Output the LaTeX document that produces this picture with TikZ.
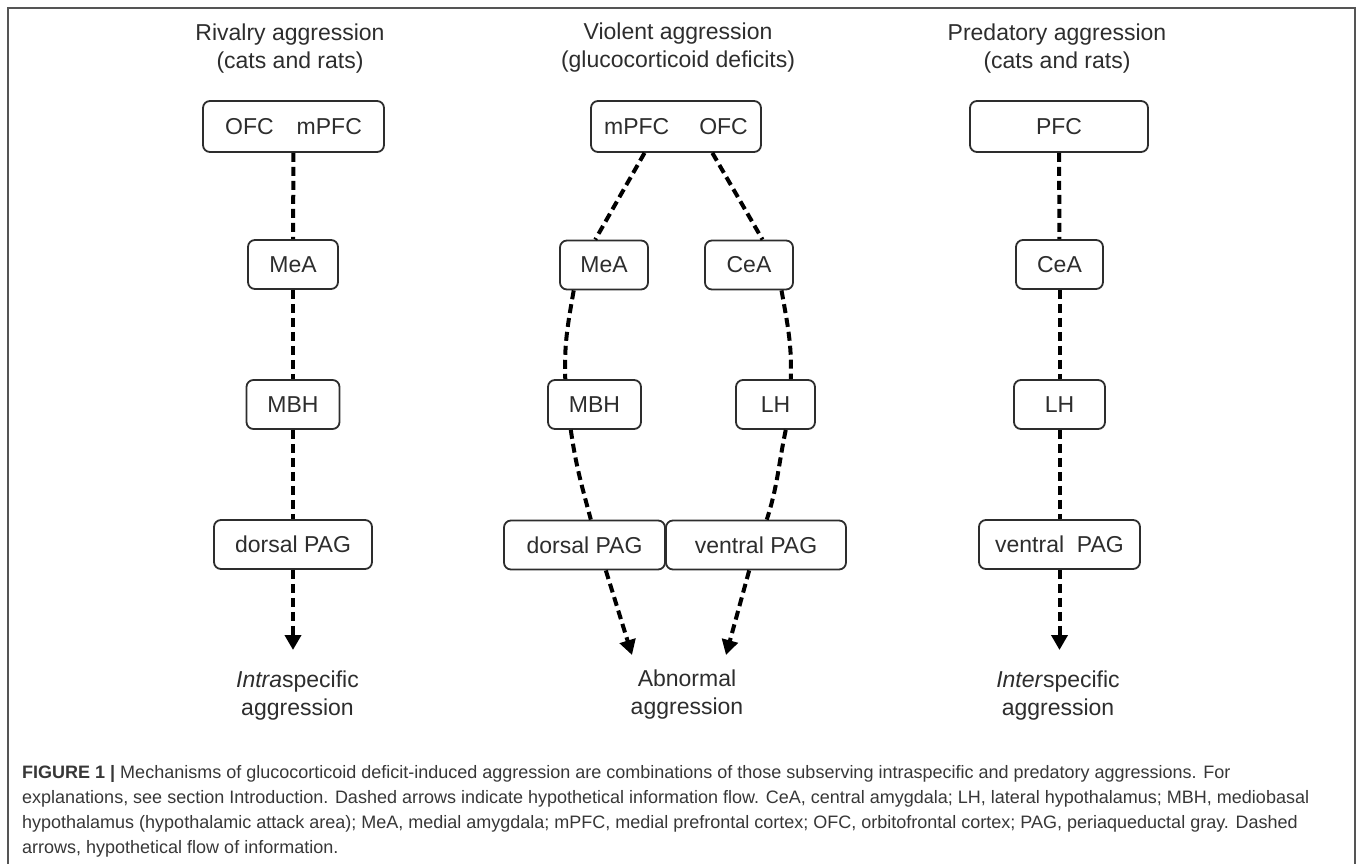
\documentclass[tikz,border=0pt]{standalone}
\usepackage{fontspec}
\setmainfont{Liberation Sans}
\usetikzlibrary{arrows.meta}
\definecolor{textgray}{RGB}{45,45,45}
\definecolor{framegray}{RGB}{85,85,85}
\definecolor{captiongray}{RGB}{55,55,55}

\begin{document}
\begin{tikzpicture}
[x=1pt,y=1pt,
 boxdecorate/.style={shape=rectangle,rounded corners=7pt,draw=textgray,line width=1.8pt,%
   inner sep=0pt,text=textgray,font=\fontsize{23}{27}\selectfont},%
 linedecorate/.style={-,dash pattern=on 9pt off 5pt,line width=4pt,black},%
 arrowdecorate/.style={linedecorate,-{Triangle[width=16pt,length=15pt]}},%
 labeldecorate/.style={align=center,text=textgray,font=\fontsize{23}{28}\selectfont}]
\useasboundingbox (0,0) rectangle (1358,-864);
\draw[framegray,line width=1.4pt] (8,-870) -- (8,-8) -- (1355,-8) -- (1355,-870);
%% titles
\node (title1) at (290,-49) [labeldecorate] {Rivalry aggression\\(cats and rats)};
\node (title2) at (678,-48) [labeldecorate] {Violent aggression\\(glucocorticoid deficits)};
\node (title3) at (1057,-49) [labeldecorate] {Predatory aggression\\(cats and rats)};
%% brain areas
\foreach \nodename/\x/\y/\w/\h/\txt in {top1/293.5/126.5/181/51/{OFC\quad mPFC},
  mea1/293/264.5/90/49/MeA, mbh1/293/404.5/93/49/MBH, dpag1/293/544.5/158/49/{dorsal PAG},
  top2/676/126.5/170/51/{mPFC\hspace{30pt}OFC},
  mea2/604/265/88/49/MeA, cea2/749/265/88/49/CeA, mbh2/594.5/404.5/93/49/MBH,
  lh2/775.5/404.5/79/49/LH, dpag2/584.5/545/161/49/{dorsal PAG}, vpag2/756/545/180/49/{ventral PAG},
  top3/1059/126.5/178/51/PFC,
  cea3/1059.5/264.5/87/49/CeA, lh3/1059.5/404.5/91/49/LH, vpag3/1059.5/544.5/161/49/{ventral\ \ PAG}}
{
  \node (\nodename) at (\x,-\y) [boxdecorate,minimum width=\w pt,minimum height=\h pt] {\txt};
}
%% outcomes
\node (intra) at (297.5,-696) [labeldecorate] {\textit{Intra}specific\\aggression};
\node (abnormal) at (687,-695) [labeldecorate] {Abnormal\\aggression};
\node (inter) at (1058,-696) [labeldecorate] {\textit{Inter}specific\\aggression};
\coordinate (tip1) at (293,-650);
\coordinate (tip2a) at (632,-655);
\coordinate (tip2b) at (726,-655);
\coordinate (tip3) at (1059.5,-650);
%% dashed links
\path
\foreach \startnode/\endnode in {top1/mea1, mea1/mbh1, mbh1/dpag1,
  top3/cea3, cea3/lh3, lh3/vpag3}
{
  (\startnode) edge[linedecorate] (\endnode)
};
\path (top2.-140) edge[linedecorate] (mea2.109)
  (top2.-36) edge[linedecorate] (cea2.62)
  (mea2.-140) edge[linedecorate,out=-100,in=92] (mbh2.139)
  (cea2.-38) edge[linedecorate,out=-80,in=88] (lh2.59)
  (mbh2.-133) edge[linedecorate,out=-82,in=105] (dpag2.76)
  (lh2.-68) edge[linedecorate,out=-102,in=72] (vpag2.67);
%% arrows
\draw[arrowdecorate] (dpag1) -- (tip1);
\draw[arrowdecorate] (dpag2.-50) -- (tip2a);
\draw[arrowdecorate] (vpag2.-105) -- (tip2b);
\draw[arrowdecorate] (vpag3) -- (tip3);
%% caption
\node (caption) at (22,-853) [anchor=base west,align=left,inner sep=0pt,text=captiongray,%
  font=\fontsize{18}{25}\selectfont]
{\textbf{FIGURE 1 |} Mechanisms of glucocorticoid deficit-induced aggression are combinations of those subserving intraspecific and predatory aggressions. For\\
explanations, see section Introduction. Dashed arrows indicate hypothetical information flow. CeA, central amygdala; LH, lateral hypothalamus; MBH, mediobasal\\
hypothalamus (hypothalamic attack area); MeA, medial amygdala; mPFC, medial prefrontal cortex; OFC, orbitofrontal cortex; PAG, periaqueductal gray. Dashed\\
arrows, hypothetical flow of information.};
\end{tikzpicture}
\end{document}
